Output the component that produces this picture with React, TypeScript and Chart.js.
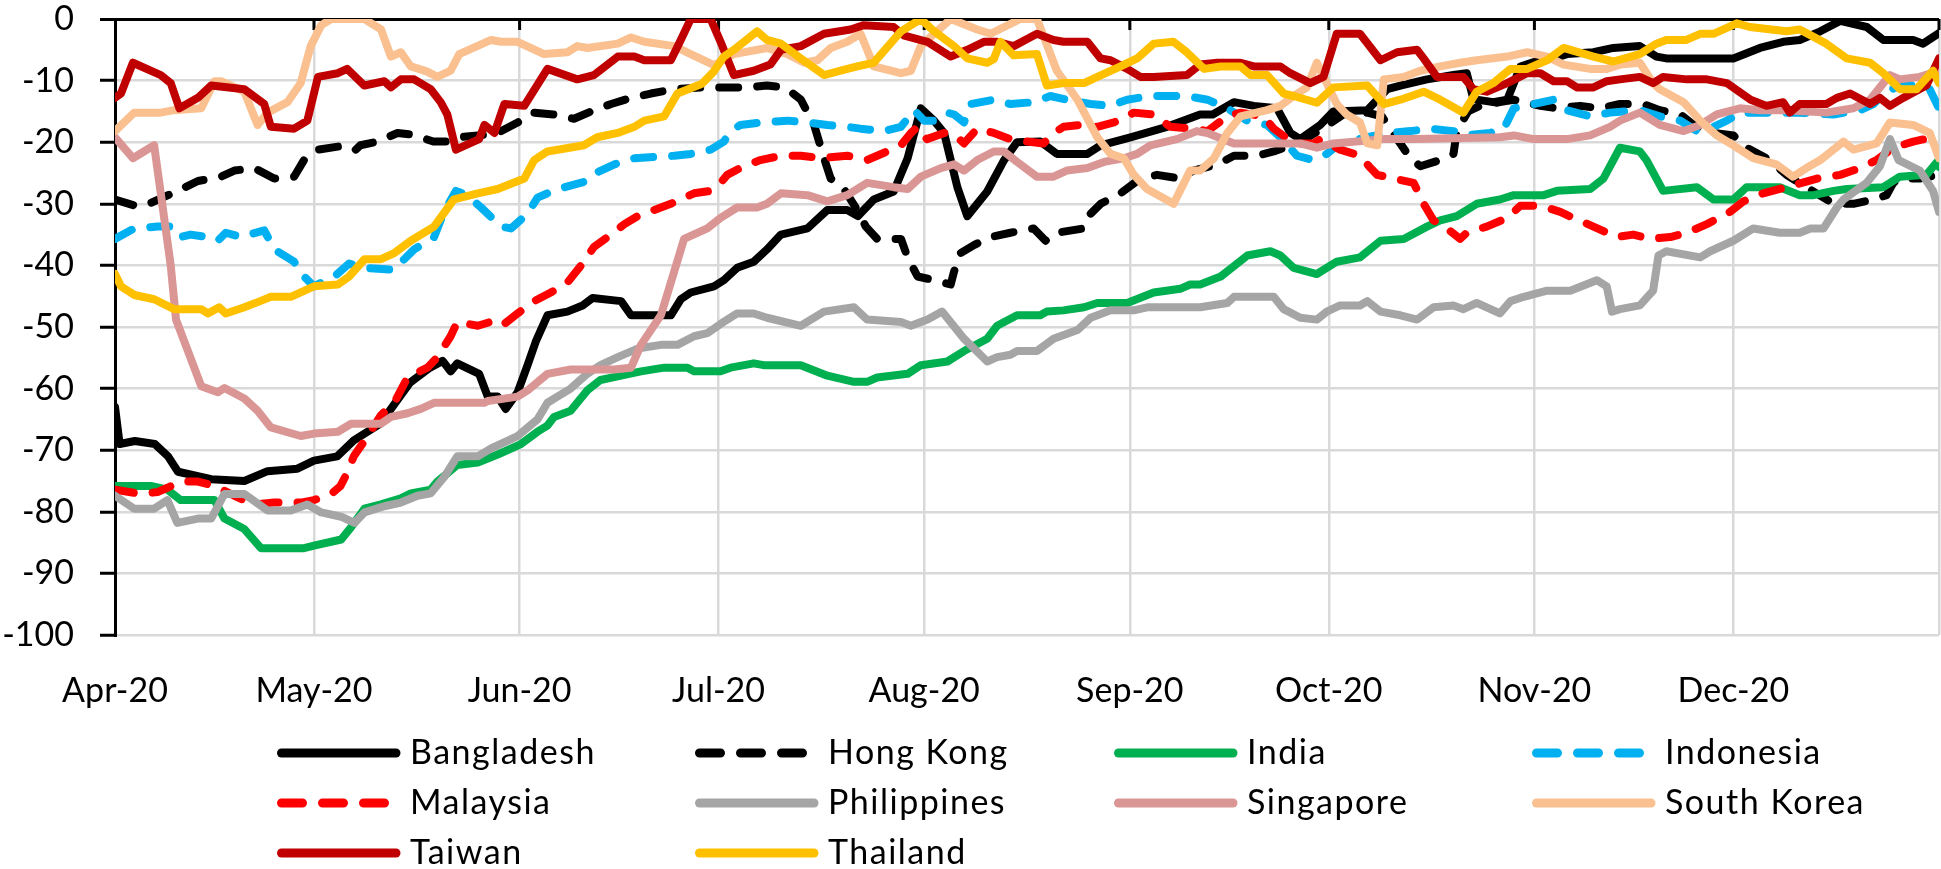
import React, { useEffect, useRef } from "react";
import { Chart, registerables } from "chart.js";

Chart.register(...registerables);

// Days since 1 Apr 2020 and the value of each series on that day.
const monthTickDays = [0, 30, 61, 91, 122, 153, 183, 214, 244, 275];
const monthTickLabels = ["Apr-20", "May-20", "Jun-20", "Jul-20", "Aug-20", "Sep-20", "Oct-20", "Nov-20", "Dec-20", ""];
const yTickValues = [0, -10, -20, -30, -40, -50, -60, -70, -80, -90, -100];

const bangladesh: [number, number][] = [
  [0, -63], [0.7, -69], [3, -68.5], [6, -69], [8, -71], [9.5, -73.5], [14.5, -74.7], [19.5, -75], [23, -73.4], [27.5, -73],
  [30, -71.7], [33.5, -71], [36, -68.4], [40, -65.7], [44.5, -59], [47.5, -56.6], [49.4, -55.5], [50.6, -57.2], [51.6, -55.9],
  [54.9, -57.6], [56.2, -61.3], [57.7, -61.3], [58.9, -63.3], [60.7, -60.6], [62.2, -56.2], [63.5, -52.2], [65.2, -48.1],
  [68.2, -47.5], [70.5, -46.5], [72, -45.3], [76.3, -45.8], [77.8, -48.1], [83.8, -48.1], [85.3, -45.5], [86.8, -44.4],
  [90.3, -43.4], [91.8, -42.4], [93.8, -40.4], [96.3, -39.4], [98.3, -37.4], [100.4, -35], [104.4, -34], [107.4, -31],
  [110.4, -31], [112, -32], [114.4, -29.3], [117.4, -28], [119.5, -22.6], [121.5, -14.5], [123.5, -16.5], [125, -18.5],
  [127, -27.3], [128.5, -32], [131.5, -28], [134, -23], [136, -20], [139.5, -19.9], [142, -21.9], [146.6, -21.9],
  [148.6, -20.5], [153.1, -19.2], [158.6, -17.5], [163.6, -15.5], [165.5, -15.5], [168.7, -13.5], [171.7, -14.1],
  [175.2, -14.5], [177.2, -18.5], [178.7, -19.5], [181.7, -17.2], [183.7, -15], [188.8, -14.8], [191.8, -11.4],
  [193.8, -10.8], [197.8, -9.8], [201.8, -9.1], [203.8, -8.8], [204.8, -13], [207.8, -13.5], [209.9, -13.1], [211.9, -7.7],
  [213.9, -7], [216.9, -6.4], [218.9, -5.7], [222.9, -5.4], [225.9, -4.7], [229.9, -4.4], [232.4, -6.1], [233.9, -6.4],
  [244, -6.4], [248, -4.7], [251.5, -3.7], [254, -3.4], [257.1, -2], [260.1, -0.3], [264.1, -1.3], [266.6, -3.4],
  [271.1, -3.4], [272.6, -4], [275, -2.3],
];

const hongKong: [number, number][] = [
  [0, -29.3], [3, -30.3], [4.5, -30.3], [8, -28.6], [10, -27.6], [12.5, -26.3], [16, -25.6], [18, -24.6], [21, -24.2],
  [24, -25.9], [27, -25.6], [28.5, -22.9], [30.6, -21.2], [35, -20.5], [36.3, -21.2], [37, -20.5], [39.6, -19.9],
  [42.6, -18.5], [45, -18.8], [48, -19.9], [50, -19.9], [52, -19.2], [54.7, -18.9], [57.7, -18.5], [60.7, -16.8],
  [63.2, -15.2], [66.2, -15.5], [69.2, -16.2], [72.2, -14.8], [74.8, -13.8], [77.8, -12.8], [80.8, -12.1], [84.3, -11.4],
  [88.3, -11.1], [95.3, -11.1], [98.3, -10.8], [100, -11], [101.4, -11.4], [103.4, -13.1], [105.4, -17.2], [106.9, -22.6],
  [107.9, -25.9], [109.9, -27.6], [111.9, -31], [113.2, -33.7], [114.9, -35.7], [118.5, -35.7], [119.5, -38.7], [121, -41.8],
  [123.5, -42.4], [126, -43.1], [126.5, -41], [127.5, -38], [129.5, -36.7], [132, -35.4], [135, -34.7], [138.5, -34],
  [140.3, -36], [142, -34.7], [146, -34], [147.1, -31.6], [148.6, -30], [151.6, -28.3], [154.6, -25.9], [157.1, -25.3],
  [160.6, -25.9], [162.6, -24.6], [166.2, -23.6], [168.7, -22.2], [172.2, -22.2], [174.7, -21.5], [178.7, -20],
  [181.7, -18], [185.2, -15.5], [188.8, -15.2], [191, -15.8], [193, -19], [195.3, -22.6], [196.8, -23.9], [199.8, -22.9],
  [201.8, -21.9], [202.3, -18.2], [204, -15], [206, -14], [208.8, -13.5], [210.9, -13.1], [214.9, -14.1], [217.4, -14.5],
  [220.9, -14.1], [223.9, -14.5], [226.9, -13.8], [230.4, -13.8], [232.9, -14.8], [236, -15.5], [238, -17.2], [241, -18.5],
  [244, -18.9], [246, -20.9], [249.5, -22.9], [252, -25.3], [255, -27.3], [259.1, -30], [262.1, -30], [265.1, -29.3],
  [267.1, -28.6], [268.1, -26.6], [269.1, -25.9], [272.1, -25.9], [275, -25.3],
];

const india: [number, number][] = [
  [0, -75.8], [5.4, -75.8], [7.9, -76.4], [9.9, -78.1], [15, -78.1], [16.5, -81.1], [19.5, -82.8], [22, -85.9], [28.5, -85.9],
  [30, -85.5], [34.1, -84.5], [35.6, -82.5], [37.6, -79.5], [40.1, -78.8], [43.1, -77.8], [44.6, -77], [47.6, -76.4],
  [48.6, -75.1], [51.6, -72.4], [54.7, -72], [57.7, -70.7], [61.2, -69], [63.7, -67], [65.2, -66], [66.2, -64.6],
  [68.7, -63.6], [71.2, -60.3], [73.2, -58.6], [76.3, -57.9], [79.3, -57.2], [82.8, -56.6], [86.3, -56.6], [87.3, -57.2],
  [91.3, -57.2], [92.8, -56.6], [96.3, -55.9], [97.8, -56.2], [103.4, -56.2], [107.4, -57.9], [111.4, -58.9], [113.4, -58.9],
  [114.9, -58.2], [119.5, -57.6], [121.5, -56.2], [125.5, -55.6], [128, -53.9], [131.5, -51.9], [133, -49.8], [136, -48.1],
  [139.5, -48.1], [140.5, -47.5], [143, -47.3], [146.1, -46.8], [148.1, -46.1], [152.6, -46.1], [156.6, -44.4],
  [160.6, -43.8], [162.1, -43.1], [163.6, -43.1], [166.7, -41.8], [168.7, -40.1], [170.7, -38.4], [174.2, -37.7],
  [175.7, -38.4], [177.7, -40.4], [181.2, -41.4], [184.2, -39.4], [187.7, -38.7], [190.8, -36], [194.3, -35.7],
  [197.8, -33.7], [199.8, -32.7], [202.3, -32], [205.3, -30], [208.8, -29.3], [210.9, -28.6], [215.4, -28.6], [217.4, -27.9],
  [222.4, -27.6], [224.4, -25.9], [226.9, -20.9], [229.9, -21.5], [230.9, -22.9], [233.4, -27.9], [238.5, -27.3], [241, -29.3],
  [244, -29.3], [246, -27.3], [251, -27.3], [254, -28.6], [256.1, -28.6], [259.1, -27.9], [261.1, -27.6], [266.6, -27.3],
  [269.1, -25.6], [273.1, -25.3], [274.7, -23.2], [275, -24],
];

const indonesia: [number, number][] = [
  [0, -35.7], [2.9, -34], [6.4, -33.7], [8.7, -33.7], [9.9, -35.4], [11.4, -35], [14, -35.4], [15.5, -36], [16.7, -34.7],
  [19, -35.4], [22.5, -34.3], [24, -37.4], [27, -39.4], [28.5, -41.8], [30, -43.4], [31.1, -42.8], [33.1, -41.8], [35.3, -39.7],
  [37.6, -40.4], [42.1, -40.7], [43.6, -39], [45.1, -37.4], [48.1, -35.4], [49.6, -31.3], [51.4, -27.9], [53.1, -28.6],
  [55.2, -30.6], [58.2, -33.7], [59.7, -34], [62.2, -31.6], [63.7, -29], [66.7, -27.6], [69.2, -26.9], [71.2, -26.3],
  [72.7, -24.9], [75.3, -23.6], [78.3, -22.6], [84.3, -22.2], [86.8, -21.9], [89.8, -21.2], [91.8, -19.9], [92.8, -18.2],
  [94.3, -17.2], [97.3, -16.8], [101.4, -16.5], [104.4, -16.8], [107.4, -17.2], [110.4, -17.5], [112.4, -17.8], [115.9, -18.2],
  [118.5, -17.5], [120.5, -14.8], [122, -16.5], [123.5, -16.5], [125.5, -15.2], [126.5, -15.5], [128, -16.8], [129, -13.8],
  [132.5, -13.1], [135, -13.8], [138.5, -13.5], [141, -12.5], [143.5, -13.1], [147.1, -13.8], [150.1, -14.1], [152.6, -13.1],
  [156.1, -12.5], [161.6, -12.5], [164.7, -13.1], [167.7, -14.5], [170.7, -16.5], [173.7, -17.2], [175.7, -19.2],
  [178.2, -22.2], [180.7, -22.9], [182.7, -21.9], [184.7, -20.2], [188.8, -19.2], [191.8, -18.5], [195.3, -18.2],
  [198.3, -17.8], [201.8, -18.2], [203.8, -18.9], [207.3, -18.5], [209.4, -17.8], [210.9, -14.5], [213.9, -13.8],
  [216.9, -13.1], [218.9, -14.8], [222.4, -15.8], [225.4, -15.2], [229.9, -14.8], [232.9, -15.8], [236, -16.5],
  [238.5, -18.2], [241, -17.5], [243, -16.5], [245, -15.2], [254, -15.2], [259.1, -15.5], [263.1, -14.8], [265.1, -13.8],
  [267.1, -11.8], [269.1, -10.8], [272.1, -10.8], [273.6, -11.4], [275, -14.5],
];

const malaysia: [number, number][] = [
  [0, -76.4], [3.9, -77.1], [6.4, -76.8], [7.9, -76.1], [9.9, -75.1], [12.5, -75.1], [15, -75.8], [18, -77.4], [20.9, -78.8],
  [24, -78.5], [28, -78.5], [30, -78.1], [32.6, -77.1], [34, -75.8], [35, -73.7], [36, -71], [38.1, -67.7], [40.1, -64.3],
  [42.1, -62.3], [44.1, -58.2], [47.1, -56.6], [48.6, -54.9], [50.6, -51.5], [51.6, -49.2], [54.7, -49.8], [57.7, -48.8],
  [58.7, -49.5], [60.7, -47.8], [63.2, -45.8], [65.7, -44.4], [68.2, -42.8], [70.2, -40.1], [72.2, -37], [74.3, -35.4],
  [76.8, -33.3], [78.8, -32], [82.3, -30.6], [83.8, -30], [87.3, -28.3], [89.8, -27.9], [91.3, -26.6], [92.3, -25.3],
  [94.8, -23.9], [97.3, -22.9], [100.4, -22.2], [103.4, -22.2], [106.4, -22.6], [110.4, -22.2], [113.4, -22.9],
  [116.4, -21.5], [118.5, -20.5], [120, -18.5], [121, -17.5], [122.4, -19.5], [125, -18.5], [126.5, -18.7], [128, -20.2],
  [130, -17.8], [132.5, -18.5], [135, -19.5], [137.5, -19.9], [140, -20.2], [141.5, -18.5], [143, -17.5], [145.6, -17.2],
  [148.1, -17.5], [150.6, -16.8], [153.6, -15.2], [156.6, -15.5], [159.1, -17.5], [162.6, -17.8], [164.7, -18.2],
  [167.7, -15.8], [169.7, -15.2], [173.2, -15.8], [174.7, -17.8], [177.7, -20.2], [180.7, -20.2], [181.7, -19.5],
  [184.7, -21.2], [187.7, -22.2], [189.3, -24.2], [190.3, -25.3], [192.8, -25.9], [195.8, -26.6], [197.3, -30],
  [198.8, -32.7], [200.8, -34], [202.8, -35.7], [203.8, -34.7], [206.8, -33.7], [209.9, -32.3], [211.9, -30.3],
  [214.9, -30.3], [217.9, -31.3], [219.9, -32.3], [222.9, -33.7], [226.4, -35.4], [228.9, -35], [231.4, -35.7],
  [234.5, -35.4], [237, -34.7], [240, -33.3], [243.5, -31.3], [245.5, -29.6], [248.5, -28.3], [252, -27.3], [256.6, -25.9],
  [260.1, -25.3], [263.1, -24.2], [265.6, -22.9], [268.1, -20.9], [271.1, -19.9], [274.1, -19.2], [275, -19.2],
];

const philippines: [number, number][] = [
  [0, -77.4], [2.9, -79.5], [5.9, -79.5], [7.9, -78.1], [9.4, -81.8], [12.5, -81.1], [14.5, -81.1], [16.5, -77.1],
  [19.5, -77.1], [23, -79.8], [26.5, -79.8], [29, -78.8], [31.1, -80.1], [34.1, -80.8], [36.1, -81.8], [37.6, -80.1],
  [40.6, -79.1], [43.1, -78.5], [45.6, -77.4], [47.6, -77], [49.6, -74.4], [51.6, -71], [54.7, -71], [56.7, -69.7],
  [60.7, -67.7], [63.7, -65], [65.2, -62.3], [66.7, -61.3], [68.7, -60], [71.2, -57.6], [73.2, -56.2], [75.8, -54.9],
  [78.8, -53.5], [82.3, -52.9], [84.8, -52.9], [87.3, -51.5], [89.3, -51], [91.3, -49.5], [93.8, -47.8], [96.3, -47.8],
  [98.3, -48.5], [103.4, -49.8], [106.9, -47.5], [111.4, -46.8], [113.4, -48.8], [118.5, -49.2], [120, -49.8],
  [122.5, -48.8], [124.7, -47.5], [128, -51.9], [131.5, -55.6], [133, -54.9], [135, -54.5], [136, -53.9], [139, -53.9],
  [141.5, -51.9], [145.1, -50.5], [147.1, -48.5], [150.1, -47.3], [153.6, -47.3], [155.6, -46.8], [163.6, -46.8],
  [167.7, -46.1], [168.7, -45.1], [174.7, -45.1], [176.2, -47.1], [178.7, -48.5], [181.2, -48.8], [182.7, -47.5],
  [184.7, -46.5], [187.7, -46.5], [188.8, -45.8], [190.8, -47.5], [193.8, -48.1], [196.3, -48.8], [198.8, -46.8],
  [201.8, -46.5], [203.3, -47.1], [205.3, -46.1], [208.8, -47.8], [210.4, -45.8], [212.4, -45.1], [215.9, -44.1],
  [219.4, -44.1], [223.4, -42.4], [224.9, -43.4], [225.7, -47.5], [226.9, -47.1], [229.9, -46.5], [231.9, -44.1],
  [232.7, -38.4], [233.9, -37.7], [239, -38.7], [240.5, -37.7], [244, -36], [247, -34], [251, -34.7], [254, -34.7],
  [255.6, -34], [257.6, -34], [259.6, -30.6], [260.6, -29.3], [264.1, -26.6], [266.1, -23.9], [267.6, -19.5],
  [268.9, -22.9], [272.1, -24.6], [274.1, -27.9], [275, -31.3],
];

const singapore: [number, number][] = [
  [0, -19.2], [2.7, -22.6], [5.9, -20.5], [8.4, -40], [9.2, -48.8], [13, -59.6], [15.5, -60.6], [16.5, -59.9], [19.5, -61.6],
  [21.5, -63.6], [23.5, -66.3], [28, -67.7], [30, -67.3], [33.6, -67], [35.6, -65.7], [40.1, -65.7], [41.6, -64.6],
  [44.1, -64], [46.1, -63.3], [48.1, -62.3], [50.1, -62.3], [55.7, -62.3], [56.2, -62], [60.7, -61.3], [62.2, -60.3],
  [65.2, -57.6], [68.7, -56.9], [75.3, -56.9], [77.8, -56.6], [79.3, -52.9], [82.3, -48.1], [83.8, -42.8], [85.8, -35.7],
  [89.3, -34], [91.3, -32.3], [93.8, -30.6], [96.8, -30.6], [98.3, -30], [100.4, -28.3], [104.4, -28.6], [107.4, -29.6],
  [110.4, -28.6], [113.4, -26.6], [117.4, -27.3], [119.5, -27.6], [121.5, -25.6], [124.5, -24.2], [126.5, -23.6],
  [128, -24.6], [130, -22.9], [132.5, -21.5], [134, -21.5], [136, -23.2], [139, -25.6], [141.5, -25.6], [143.5, -24.6],
  [146.6, -24.2], [149.1, -23.2], [152.1, -22.6], [154.1, -21.9], [156.1, -20.5], [160.1, -19.5], [163.1, -18.2],
  [164.7, -18.5], [168.7, -20.2], [178.7, -20.2], [181.2, -20.9], [183.7, -20.2], [191.3, -19.5], [196.3, -19.5],
  [208.8, -19.2], [210.9, -18.9], [213.9, -19.5], [218.9, -19.5], [222.4, -18.9], [225.4, -17.5], [226.9, -16.5],
  [229.9, -15.2], [232.9, -17.2], [236.5, -18.2], [239, -17.2], [241.5, -15.5], [245, -14.5], [248, -14.8], [252, -14.8],
  [258, -15.2], [262.1, -14.5], [264.6, -13.1], [266.1, -11.1], [267.6, -9.1], [269.1, -9.8], [272.1, -9.4], [275, -8.4],
];

const southKorea: [number, number][] = [
  [0, -18.2], [2.9, -15.2], [6.9, -15.2], [8.9, -14.8], [13, -14.5], [15, -10.1], [16, -10.1], [19.5, -11.8], [21.5, -17.2],
  [23, -15.2], [26, -13.5], [28, -10.4], [29.5, -4.4], [31.1, -1], [32.6, 0], [37.6, 0], [40.1, -1.7], [41.6, -6.1],
  [43.1, -5.4], [44.6, -7.7], [47, -8.5], [48.6, -9.4], [50.6, -8.4], [51.9, -5.7], [56.7, -3.4], [58.2, -3.7], [60.7, -3.7],
  [64.7, -5.7], [68.2, -5.4], [69.7, -4.4], [71.2, -4.7], [75.8, -4], [77.8, -3], [79.8, -3.7], [84.3, -4.4], [86.8, -5.7],
  [90.3, -7.5], [93.3, -5.7], [98.3, -4.7], [101.4, -5.7], [103.9, -7.1], [105.9, -6.7], [107.9, -4.7], [110.4, -3.7],
  [112.4, -2.4], [113.4, -5], [114.4, -7.7], [118.5, -8.8], [120, -8.4], [121.5, -4.4], [123.5, -2.4], [126, 0], [130, -1.7],
  [132, -2.4], [136.5, 0], [139, 0], [142, -8.4], [145.1, -13.1], [148.1, -19.2], [150.1, -21.9], [152.1, -22.6],
  [153.6, -25.3], [155.6, -27.6], [159.6, -30], [162.1, -24.6], [163.6, -24.6], [165.7, -22.6], [167.7, -18.5],
  [169.7, -15.8], [173.7, -14.8], [175.7, -14.1], [177.7, -12.5], [179.7, -11.1], [181.2, -7.1], [182.5, -10],
  [184.2, -13.8], [185.7, -15.5], [187.7, -16.8], [188.8, -20.2], [190.3, -20.5], [191.3, -9.8], [194.3, -9.4],
  [196.8, -8.4], [199.8, -7.7], [202.8, -7.1], [205.3, -6.7], [209.9, -6.1], [212.9, -5.4], [215.9, -6.1], [218.4, -7.4],
  [222.4, -8.1], [224.9, -8.1], [226.9, -7.4], [229.9, -7.1], [231.9, -10.4], [232.9, -11.4], [236.5, -13.5], [239, -16.5],
  [241.5, -18.9], [244, -20.5], [247, -22.6], [250.5, -23.6], [253, -25.6], [255, -24.2], [257.1, -22.9], [260.6, -19.9],
  [262.1, -21.2], [265.6, -20.2], [267.6, -16.8], [271.1, -17.2], [273.6, -18.5], [275, -22.6],
];

const taiwan: [number, number][] = [
  [0, -12.8], [0.9, -12.1], [2.7, -7.1], [6.9, -9.1], [8.4, -10.4], [9.7, -14.5], [12.5, -12.8], [14.5, -10.8], [19.5, -11.4],
  [22.5, -13.8], [23.5, -17.5], [27, -17.8], [29, -16.5], [30.6, -9.4], [33.6, -8.8], [35, -8.1], [37.6, -10.8], [40.6, -10.1],
  [41.6, -11.1], [43.1, -9.8], [45.1, -9.8], [47.6, -11.4], [49.1, -13.5], [50.1, -15.5], [51.4, -21.2], [54.9, -19.5],
  [55.7, -17.2], [57.2, -18.5], [58.7, -13.8], [61.7, -14.1], [65.2, -8.1], [69.7, -9.8], [72.2, -9.1], [75.8, -6.1],
  [78.3, -6.1], [79.8, -6.7], [83.8, -6.7], [85.3, -3.4], [86.8, 0], [89.8, 0], [91.3, -3.7], [93.3, -9.1], [96.3, -8.4],
  [98.8, -7.4], [100.4, -5], [103.4, -4.4], [106.9, -2.4], [110.9, -1.7], [112.9, -1], [117.4, -1.3], [119, -2.7],
  [122.5, -3.7], [126, -6.1], [128.5, -5], [131, -3.7], [133, -3.7], [135.5, -4.4], [139, -2.4], [141.5, -3.4], [143, -3.7],
  [146.6, -3.7], [148.6, -6.4], [150.1, -6.7], [152.6, -8.1], [154.6, -9.4], [156.6, -9.4], [161.6, -9.1], [163.6, -7.4],
  [166.2, -7.1], [169.7, -7.1], [171.7, -7.7], [175.7, -7.7], [177.2, -8.8], [180.2, -10.4], [182.2, -9.4], [184.2, -2.4],
  [187.7, -2.4], [190.8, -6.7], [193.3, -5.4], [196.3, -5], [197.3, -6.4], [199.3, -9.4], [203.3, -9.4], [204.8, -11.4],
  [206.8, -11.8], [209.9, -10.4], [212.9, -8.8], [214.9, -8.8], [216.9, -10.1], [218.9, -10.1], [220.4, -11.1],
  [222.9, -11.1], [224.9, -10.1], [226.9, -9.8], [229.9, -9.4], [231.9, -10.4], [233.4, -9.4], [237, -9.8], [240, -9.8],
  [243, -10.4], [246.6, -13.1], [249, -14.1], [251.5, -13.5], [252.5, -15.2], [254, -13.8], [258, -13.8], [259.6, -12.8],
  [261.6, -12.1], [264.6, -13.8], [266.1, -12.8], [267.6, -14.1], [269.6, -12.8], [273.1, -10.8], [275, -6.4],
];

const thailand: [number, number][] = [
  [0, -41.4], [0.9, -43.4], [2.9, -44.8], [5.9, -45.5], [8.9, -47.1], [13, -47.1], [14, -47.8], [15.7, -46.8], [16.7, -47.8],
  [19.5, -46.8], [21.9, -45.8], [23.5, -45.1], [26.5, -45.1], [30, -43.4], [33.6, -43.1], [35.3, -41.8], [37.6, -39],
  [40.1, -39], [42.1, -38], [44.6, -36], [48.1, -33.7], [51.1, -29.3], [54.7, -28.3], [57.7, -27.6], [61.7, -25.9],
  [63.2, -22.9], [65.2, -21.5], [70.7, -20.5], [72.7, -19.2], [75.8, -18.5], [78.3, -17.5], [79.8, -16.5], [82.8, -15.8],
  [84.8, -12.1], [88.5, -10.5], [90.3, -8.5], [91.8, -6.1], [93.3, -5], [96.8, -2], [98.3, -3.4], [100.4, -4], [103.4, -6.4],
  [106.9, -9.1], [109.4, -8.4], [111.9, -7.7], [114.4, -7.1], [118.5, -2], [121.5, 0], [123.5, -2], [126.5, -4.4],
  [128.5, -6.4], [131.5, -7.1], [132.5, -6.5], [133.5, -3.7], [135.5, -5.9], [139, -5.7], [140.5, -10.8], [143, -10.4],
  [146.1, -10.4], [148.1, -9.4], [151.6, -7.7], [154.1, -6.4], [156.6, -4], [159.6, -3.7], [161.6, -5.4], [164.2, -8.1],
  [166.7, -7.7], [169.7, -7.7], [171.2, -9.1], [173.7, -9.1], [176.2, -12.1], [177.7, -12.5], [181.2, -13.6], [183.7, -11.1],
  [188.8, -10.8], [191.3, -13.8], [193.8, -13.1], [197.3, -11.8], [199.8, -13.1], [203.3, -15.2], [205.3, -11.8],
  [207.8, -10.4], [210.4, -8.1], [212.9, -8.1], [215.9, -6.7], [218.4, -4.7], [222.9, -6.1], [225.9, -6.9], [229.9, -5.7],
  [232.4, -4], [233.9, -3.4], [236.9, -3.4], [239, -2.4], [241, -2.4], [244.5, -0.7], [246.5, -1.3], [252, -2], [254, -1.7],
  [258, -4], [261.1, -6.4], [264.6, -7.1], [266.6, -8.8], [269.1, -11.4], [271.6, -11.4], [274.1, -8.4], [275, -10.4],
];

const seriesNames = ["Bangladesh", "Hong Kong", "India", "Indonesia", "Malaysia", "Philippines", "Singapore", "South Korea", "Taiwan", "Thailand"];
const seriesData = [bangladesh, hongKong, india, indonesia, malaysia, philippines, singapore, southKorea, taiwan, thailand];
const seriesColors = ["#000000", "#000000", "#00B050", "#00B0F0", "#FF0000", "#A5A5A5", "#DA9694", "#FAC090", "#C00000", "#FFC000"];
const seriesDashed = [false, true, false, true, true, false, false, false, false, false];

const W = 1941;
const H = 869;
const FONT = "Lato, 'Open Sans', sans-serif";

const legendPlugin = {
  id: "gridLegend",
  afterDraw(chart: any) {
    const ctx = chart.ctx;
    const colX = [277, 695, 1114, 1532];
    const rowY = [753, 803, 853];
    ctx.save();
    chart.data.datasets.forEach((ds: any, i: number) => {
      const x = colX[i % 4];
      const y = rowY[Math.floor(i / 4)];
      ctx.beginPath();
      ctx.lineWidth = 9;
      ctx.lineCap = "round";
      ctx.strokeStyle = ds.borderColor;
      ctx.setLineDash(ds.borderDash && ds.borderDash.length ? [21, 20] : []);
      ctx.moveTo(x + 4.5, y);
      ctx.lineTo(x + 119, y);
      ctx.stroke();
      ctx.setLineDash([]);
      ctx.fillStyle = "#000";
      ctx.font = `34px ${FONT}`;
      try { (ctx as any).letterSpacing = "1.5px"; } catch (e) { /* ignore */ }
      ctx.textBaseline = "middle";
      ctx.textAlign = "left";
      ctx.fillText(ds.label, x + 133, y);
      try { (ctx as any).letterSpacing = "0px"; } catch (e) { /* ignore */ }
    });
    ctx.restore();
  },
};

const topAxisTicks = {
  id: "topAxisTicks",
  beforeDatasetsDraw(chart: any) {
    const ctx = chart.ctx;
    const xs = chart.scales.x;
    const top = chart.chartArea.top;
    ctx.save();
    ctx.strokeStyle = "#000";
    ctx.lineWidth = 3;
    monthTickDays.forEach((d, i) => {
      if (i === 0) return;
      const px = xs.getPixelForValue(d);
      ctx.beginPath();
      ctx.moveTo(px, top);
      ctx.lineTo(px, top + 11);
      ctx.stroke();
    });
    ctx.restore();
  },
};

export default function App() {
  const ref = useRef<HTMLCanvasElement | null>(null);
  useEffect(() => {
    if (!ref.current) return;
    const n = seriesNames.length;
    const chart = new Chart(ref.current, {
      type: "line",
      data: {
        datasets: seriesNames.map((name, i) => ({
          label: name,
          data: seriesData[i].map(([x, y]) => ({ x, y })),
          borderColor: seriesColors[i],
          backgroundColor: seriesColors[i],
          borderWidth: 8,
          borderDash: seriesDashed[i] ? [19, 19] : [],
          borderCapStyle: "round",
          borderJoinStyle: "round",
          pointRadius: 0,
          pointHoverRadius: 0,
          tension: 0,
          fill: false,
          order: n - i,
        })),
      },
      options: {
        responsive: false,
        animation: false,
        devicePixelRatio: 1,
        layout: { padding: { left: 0, right: 2, top: 19, bottom: 0 } },
        plugins: { legend: { display: false }, tooltip: { enabled: false } },
        events: [],
        scales: {
          x: {
            type: "linear",
            min: 0,
            max: 275,
            afterFit: (s: any) => { s.height = H - 635; s.paddingLeft = 0; s.paddingRight = 0; },
            afterBuildTicks: (s: any) => { s.ticks = monthTickDays.map((v) => ({ value: v })); },
            ticks: {
              autoSkip: false,
              maxRotation: 0,
              minRotation: 0,
              padding: 36,
              color: "#000",
              font: { family: FONT, size: 34 },
              callback: (_v: any, idx: number) => monthTickLabels[idx],
            },
            grid: {
              color: (c: any) => (c.index === 0 ? "rgba(0,0,0,0)" : "#D9D9D9"),
              lineWidth: 2.5,
              drawTicks: false,
            },
            border: { display: false },
          },
          y: {
            min: -100,
            max: 0,
            afterFit: (s: any) => { s.width = 115; s.paddingTop = 0; s.paddingBottom = 0; },
            afterBuildTicks: (s: any) => { s.ticks = yTickValues.map((v) => ({ value: v })); },
            ticks: {
              padding: 26,
              color: "#000",
              font: { family: FONT, size: 34 },
              callback: (v: any) => String(v),
            },
            grid: {
              color: (c: any) => (c.tick && c.tick.value === 0 ? "#000000" : "#D9D9D9"),
              lineWidth: (c: any) => (c.tick && c.tick.value === 0 ? 3 : 2.5),
              tickColor: "#000",
              tickLength: 15,
              tickWidth: 3,
              drawTicks: true,
            },
            border: { display: true, color: "#000", width: 3 },
          },
        },
      },
      plugins: [topAxisTicks, legendPlugin],
    } as any);
    return () => chart.destroy();
  }, []);
  return (
    <div style={{ position: "fixed", left: 0, top: 0, width: W, height: H, background: "#fff" }}>
      <canvas ref={ref} width={W} height={H} style={{ display: "block", width: W, height: H }} />
    </div>
  );
}
